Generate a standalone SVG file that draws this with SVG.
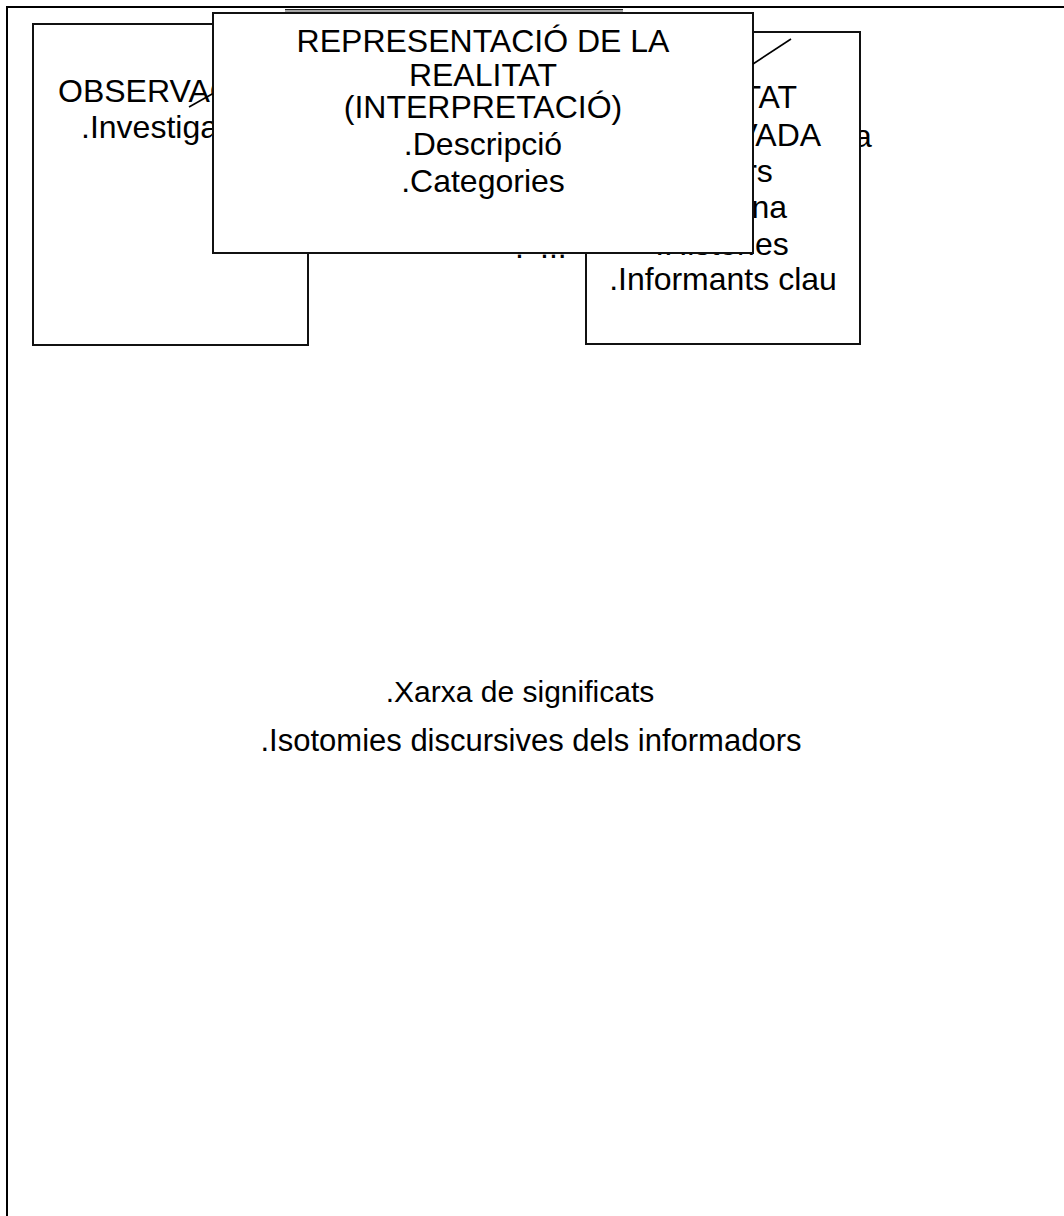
<svg xmlns="http://www.w3.org/2000/svg" width="1064" height="1216" viewBox="0 0 1064 1216">
  <style>
    .box { fill: #ffffff; stroke: #111111; stroke-width: 2; }
    .t { font-family: "Liberation Sans", Arial, sans-serif; font-size: 32px; fill: #000000; }
    .tc { text-anchor: middle; }
    .tb { font-family: "Liberation Sans", Arial, sans-serif; font-size: 30px; fill: #000000; text-anchor: middle; }
    .ln { stroke: #000000; stroke-width: 1.6; fill: none; }
  </style>

  <rect width="1064" height="1216" fill="#ffffff"/>

  <!-- page frame -->
  <path d="M7,1216 V7 H1064" fill="none" stroke="#000000" stroke-width="2"/>

  <!-- edge of a box lying underneath the others -->
  <g id="hidden-box-edge">
    <line x1="285" y1="9.5" x2="623" y2="9.5" stroke="#222222" stroke-width="1"/>
    <line x1="285" y1="11" x2="623" y2="11" stroke="#888888" stroke-width="1.5"/>
  </g>

  <!-- OBSERVACIÓ -->
  <g id="node-observacio">
    <rect class="box" x="33" y="24" width="275" height="321"/>
    <text class="t" x="58" y="102">OBSERVACIÓ</text>
    <text class="t" x="81" y="138">.Investigador</text>
  </g>

  <!-- fragments of text lying under the upper boxes -->
  <g id="hidden-text">
    <text class="t" x="854" y="147">a</text>
    <text class="t" x="515" y="258">.</text>
    <text class="t" x="540" y="258">...</text>
  </g>

  <!-- REALITAT OBSERVADA -->
  <g id="node-realitat-observada">
    <rect class="box" x="586" y="32" width="274" height="312"/>
    <text class="t tc" x="723" y="108">REALITAT</text>
    <text class="t tc" x="723" y="146">OBSERVADA</text>
    <text class="t tc" x="723" y="182">.Actors</text>
    <text class="t tc" x="723" y="218">.Persona</text>
    <text class="t tc" x="722" y="255">.Històries</text>
    <text class="t tc" x="723" y="290">.Informants clau</text>
  </g>

  <!-- REPRESENTACIÓ DE LA REALITAT -->
  <g id="node-representacio">
    <rect class="box" x="213" y="13" width="540" height="240"/>
    <text class="t tc" x="483" y="52">REPRESENTACIÓ DE LA</text>
    <text class="t tc" x="483" y="86">REALITAT</text>
    <text class="t tc" x="483" y="118">(INTERPRETACIÓ)</text>
    <text class="t tc" x="483" y="155">.Descripció</text>
    <text class="t tc" x="483" y="192">.Categories</text>
  </g>

  <!-- connectors -->
  <g id="connectors">
    <line class="ln" x1="189" y1="107" x2="213" y2="93.5"/>
    <line class="ln" x1="753" y1="64" x2="791" y2="39"/>
  </g>

  <!-- free-standing notes -->
  <g id="notes">
    <text class="tb" x="520" y="702">.Xarxa de significats</text>
    <text class="tb" x="531" y="751" style="font-size:31px">.Isotomies discursives dels informadors</text>
  </g>
</svg>
